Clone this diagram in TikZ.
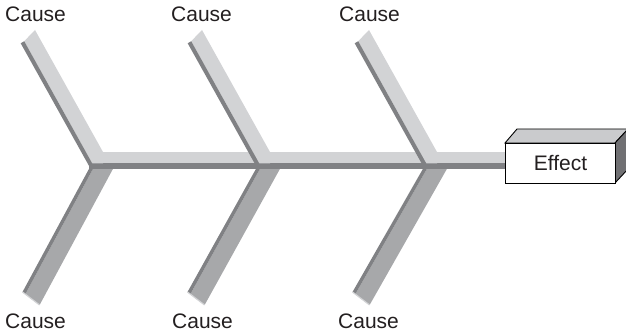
\documentclass[tikz,border=0pt]{standalone}
\usepackage{fontspec}
\setmainfont{Liberation Sans}
\definecolor{boneLight}{HTML}{D2D3D5}
\definecolor{boneDark}{HTML}{808184}
\definecolor{boneMid}{HTML}{A7A8AA}
\definecolor{boxTop}{HTML}{CACBCD}
\definecolor{boxSide}{HTML}{707073}
\definecolor{txt}{HTML}{231F20}
\begin{document}
\begin{tikzpicture}[x=1pt,y=-1pt,
  lbl/.style={font=\fontsize{21}{25}\selectfont, inner sep=0pt, text=txt},
  boxedge/.style={draw=black, line width=0.9pt}]
\useasboundingbox (0,0) rectangle (626,336);
\clip (0,0) rectangle (626,336);
% lower bones
\foreach \k in {0,1,2} {
  \pgfmathsetmacro{\o}{167*\k}
  \pgfmathsetmacro{\b}{165*\k}
  \fill[boneMid] (94+\o,167) -- (25.3+\b,294.2) -- (39.6+\b,305) -- (114+\o,167) -- cycle;
  \fill[boneDark] (90+\o,167) -- (22.5+\b,292) -- (25.3+\b,294.2) -- (94+\o,167) -- cycle;
  \draw[boneLight, line width=1.2pt] (22.5+\b,292) -- (39.6+\b,305);
}
% spine
\fill[boneDark] (89,163.5) rectangle (506,169.5);
\fill[boneLight] (95,152) rectangle (506,163.5);
% upper bones
\foreach \k in {0,1,2} {
  \pgfmathsetmacro{\o}{167*\k}
  \fill[boneLight] (35+\o,30) -- (24.2+\o,41.2) -- (92.3+\o,163.5) -- (103+\o,163.5) -- (103+\o,152) -- cycle;
  \fill[boneDark] (20.7+\o,43.3) -- (24.2+\o,41.2) -- (92.3+\o,163.5) -- (89.9+\o,167.5) -- cycle;
}
% effect box
\filldraw[fill=boxTop, boxedge] (505,143) -- (517,129) -- (628,129) -- (615,143) -- cycle;
\filldraw[fill=boxSide, boxedge] (615,143) -- (628,129) -- (628,169) -- (615,183) -- cycle;
\node[boxedge, fill=white, minimum width=110pt, minimum height=40pt, anchor=north west, lbl] (effect) at (505,143) {Effect};
% labels
\node[lbl, anchor=base west] (c1) at (5,21.5) {Cause};
\node[lbl, anchor=base west] (c2) at (171,21.5) {Cause};
\node[lbl, anchor=base west] (c3) at (339,21.5) {Cause};
\node[lbl, anchor=base west] (c4) at (5,329) {Cause};
\node[lbl, anchor=base west] (c5) at (172,329) {Cause};
\node[lbl, anchor=base west] (c6) at (338,329) {Cause};
\end{tikzpicture}
\end{document}
